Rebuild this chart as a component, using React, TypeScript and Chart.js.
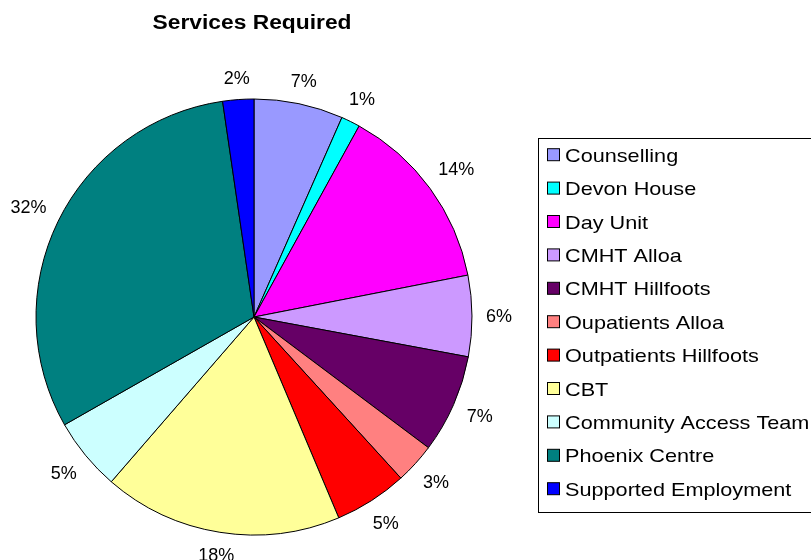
import React, { useEffect, useRef } from "react";
import { Chart, registerables } from "chart.js";

Chart.register(...registerables);

const titleText = "Services Required";
const categories = [
  "Counselling",
  "Devon House",
  "Day Unit",
  "CMHT Alloa",
  "CMHT Hillfoots",
  "Oupatients Alloa",
  "Outpatients Hillfoots",
  "CBT",
  "Community Access Team",
  "Phoenix Centre",
  "Supported Employment",
];
const values = [6.6, 1.4, 13.9, 6.0, 7.3, 3.0, 5.4, 17.7, 5.4, 30.9, 2.3];
const percentLabels = ["7%", "1%", "14%", "6%", "7%", "3%", "5%", "18%", "5%", "32%", "2%"];
const colors = [
  "#9999FF",
  "#00FFFF",
  "#FF00FF",
  "#CC99FF",
  "#660066",
  "#FF8080",
  "#FF0000",
  "#FFFF99",
  "#CCFFFF",
  "#008080",
  "#0000FF",
];

const FONT = "Arial, 'Liberation Sans', sans-serif";

const decorPlugin = {
  id: "decor",
  afterDraw(chart: any) {
    const ctx = chart.ctx as CanvasRenderingContext2D;
    ctx.save();
    // Title
    ctx.fillStyle = "#000";
    ctx.font = `bold 20px ${FONT}`;
    ctx.textBaseline = "alphabetic";
    ctx.textAlign = "center";
    ctx.save();
    ctx.translate(252, 29);
    ctx.scale(1.14, 1);
    ctx.fillText(titleText, 0, 0);
    ctx.restore();

    // Percentage labels
    const meta = chart.getDatasetMeta(0);
    ctx.font = `18px ${FONT}`;
    ctx.textAlign = "center";
    ctx.textBaseline = "middle";
    meta.data.forEach((arc: any, i: number) => {
      const mid = (arc.startAngle + arc.endAngle) / 2;
      const c = Math.cos(mid);
      const s = Math.sin(mid);
      const txt = percentLabels[i];
      const w = ctx.measureText(txt).width;
      const h = 13;
      const dist = arc.outerRadius + 14 + (w / 2) * Math.abs(c) + (h / 2) * Math.abs(s);
      ctx.fillText(txt, arc.x + c * dist, arc.y + s * dist + 1);
    });

    // Legend
    const boxL = 538.5;
    const boxT = 138.5;
    const boxB = 512.5;
    ctx.strokeStyle = "#000";
    ctx.lineWidth = 1;
    ctx.strokeRect(boxL, boxT, 820 - boxL, boxB - boxT);
    ctx.font = `19px ${FONT}`;
    ctx.textAlign = "left";
    ctx.textBaseline = "alphabetic";
    categories.forEach((name, i) => {
      const base = 161.7 + i * 33.4;
      const sy = base - 13;
      ctx.fillStyle = colors[i];
      ctx.fillRect(547.5, sy, 12, 12);
      ctx.strokeStyle = "#000";
      ctx.strokeRect(547.5, sy, 12, 12);
      ctx.fillStyle = "#000";
      ctx.save();
      ctx.translate(565, base);
      ctx.scale(1.14, 1);
      ctx.fillText(name, 0, 0);
      ctx.restore();
    });
    ctx.restore();
  },
};

export default function App() {
  const ref = useRef<HTMLCanvasElement>(null);
  useEffect(() => {
    if (!ref.current) return;
    const chart = new Chart(ref.current, {
      type: "pie",
      data: {
        labels: categories,
        datasets: [
          {
            data: values,
            backgroundColor: colors,
            borderColor: "#000",
            borderWidth: 1,
            radius: 218,
          } as any,
        ],
      },
      options: {
        responsive: false,
        animation: false,
        layout: { padding: { left: 30, right: 333, top: 96, bottom: 22 } },
        plugins: {
          legend: { display: false },
          tooltip: { enabled: false },
          title: { display: false },
        },
      },
      plugins: [decorPlugin],
    });
    return () => chart.destroy();
  }, []);
  return (
    <div style={{ position: "fixed", left: 0, top: 0, width: 811, height: 560, background: "#fff" }}>
      <canvas ref={ref} width={811} height={560} style={{ display: "block" }} />
    </div>
  );
}
